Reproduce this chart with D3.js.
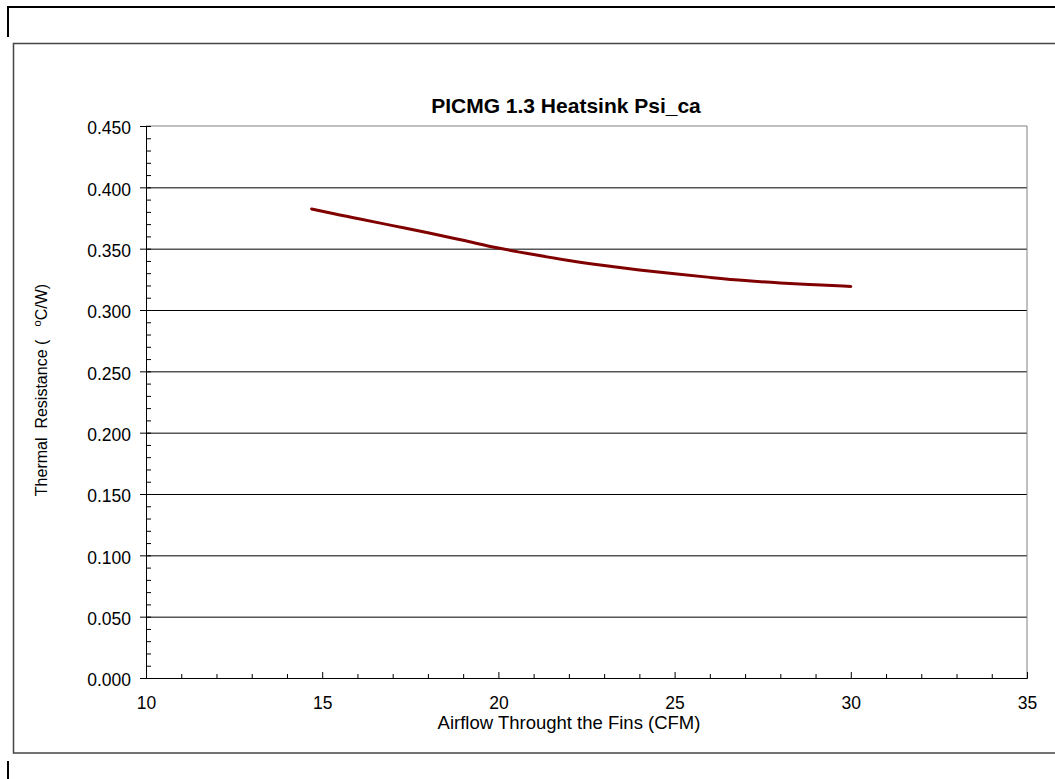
<!DOCTYPE html>
<html>
<head>
<meta charset="utf-8">
<script src="https://cdn.jsdelivr.net/npm/d3@7"></script>
<style>
  body { margin: 0; background: #fff; }
  svg { display: block; font-family: "Liberation Sans", Arial, sans-serif; }
  .tick text { font-size: 17.5px; fill: #000; }
</style>
</head>
<body>
<svg id="chart" width="1055" height="779"></svg>
<script>
// airflow (CFM) vs thermal resistance (C/W)
let airflow = [14.7, 15, 16, 17, 18, 19, 20, 21, 22, 23, 24, 25, 26, 27, 28, 29, 30]
let psiCa = [0.3824, 0.3805, 0.3746, 0.3688, 0.3630, 0.3568, 0.3505, 0.3452, 0.3404,
             0.3363, 0.3327, 0.3295, 0.3266, 0.3240, 0.3220, 0.3205, 0.3192]
let xTicks = [10, 15, 20, 25, 30, 35]
let yTicks = [0, 0.05, 0.1, 0.15, 0.2, 0.25, 0.3, 0.35, 0.4, 0.45]
let title = "PICMG 1.3 Heatsink Psi_ca"
let xLabel = "Airflow Throught the Fins (CFM)"

let data = airflow.map((x, i) => ({x: x, y: psiCa[i]}))

let svg = d3.select("#chart")

// page frame bits
svg.append("line").attr("x1", 8).attr("x2", 1055).attr("y1", 7).attr("y2", 7)
  .attr("stroke", "#000").attr("stroke-width", 2)
svg.append("line").attr("x1", 8).attr("x2", 8).attr("y1", 6).attr("y2", 37)
  .attr("stroke", "#000").attr("stroke-width", 2)
svg.append("line").attr("x1", 8).attr("x2", 8).attr("y1", 761).attr("y2", 779)
  .attr("stroke", "#000").attr("stroke-width", 2)

// chart area box
svg.append("rect").attr("x", 13.5).attr("y", 43.5).attr("width", 1100).attr("height", 709.5)
  .attr("fill", "#fff").attr("stroke", "#444").attr("stroke-width", 1.5)

let pLeft = 146, pRight = 1027, pTop = 126, pBottom = 678
let xScale = d3.scaleLinear().domain([10, 35]).range([pLeft, pRight])
let yScale = d3.scaleLinear().domain([0, 0.45]).range([pBottom, pTop])

// gridlines
svg.append("g")
  .attr("transform", "translate(" + pLeft + ",0)")
  .call(d3.axisRight(yScale).tickValues(yTicks.slice(1, -1)).tickSize(pRight - pLeft).tickFormat(""))
  .call(g => g.select(".domain").remove())
  .call(g => g.selectAll("line").attr("stroke", "#000"))

// plot border top and right
svg.append("line").attr("x1", pLeft).attr("x2", pRight).attr("y1", yScale(0.45)).attr("y2", yScale(0.45))
  .attr("stroke", "#808080")
svg.append("line").attr("x1", pRight).attr("x2", pRight).attr("y1", pTop).attr("y2", pBottom)
  .attr("stroke", "#808080")

// y axis: labels + outside major ticks
svg.append("g")
  .attr("transform", "translate(" + pLeft + ",0)")
  .call(d3.axisLeft(yScale).tickValues(yTicks).tickSize(6).tickPadding(9).tickFormat(d3.format(".3f")))
  .call(g => g.selectAll("line, path").attr("stroke", "#000"))
  .call(g => g.selectAll("text").attr("dy", "0.45em"))

// inside ticks for y (minor every 0.01)
svg.append("g")
  .attr("transform", "translate(" + pLeft + ",0)")
  .call(d3.axisRight(yScale).tickValues(d3.range(0, 46).map(d => d / 100)).tickSize(5).tickFormat(""))
  .call(g => g.select(".domain").remove())
  .call(g => g.selectAll("line").attr("stroke", "#000"))

// x axis
svg.append("g")
  .attr("transform", "translate(0," + pBottom + ")")
  .call(d3.axisTop(xScale).tickValues(d3.range(10, 36)).tickSize(4).tickFormat(""))
  .call(g => g.selectAll("line, path").attr("stroke", "#000"))
  .call(g => g.selectAll(".tick line").filter(d => d % 5 == 0).attr("y2", -6))

svg.append("g")
  .attr("transform", "translate(0," + pBottom + ")")
  .call(d3.axisBottom(xScale).tickValues(xTicks).tickSize(0).tickPadding(18.5))
  .call(g => g.select(".domain").remove())

// the curve
svg.append("path")
  .datum(data)
  .attr("fill", "none")
  .attr("stroke", "#800000")
  .attr("stroke-width", 3)
  .attr("stroke-linecap", "round")
  .attr("d", d3.line().x(d => xScale(d.x)).y(d => yScale(d.y)).curve(d3.curveMonotoneX))

// titles
svg.append("text")
  .attr("x", 566).attr("y", 113)
  .attr("text-anchor", "middle")
  .style("font-size", "21px").style("font-weight", "bold")
  .text(title)

svg.append("text")
  .attr("x", 569).attr("y", 729)
  .attr("text-anchor", "middle")
  .style("font-size", "18.5px")
  .text(xLabel)

let yl = svg.append("text")
  .attr("transform", "translate(47,390) rotate(-90)")
  .attr("text-anchor", "middle")
  .style("font-size", "16px")
  .style("white-space", "pre")
yl.append("tspan").text("Thermal  Resistance (   ")
yl.append("tspan").attr("dy", -6).style("font-size", "11px").text("o")
yl.append("tspan").attr("dy", 6).text("C/W)")
</script>
</body>
</html>
